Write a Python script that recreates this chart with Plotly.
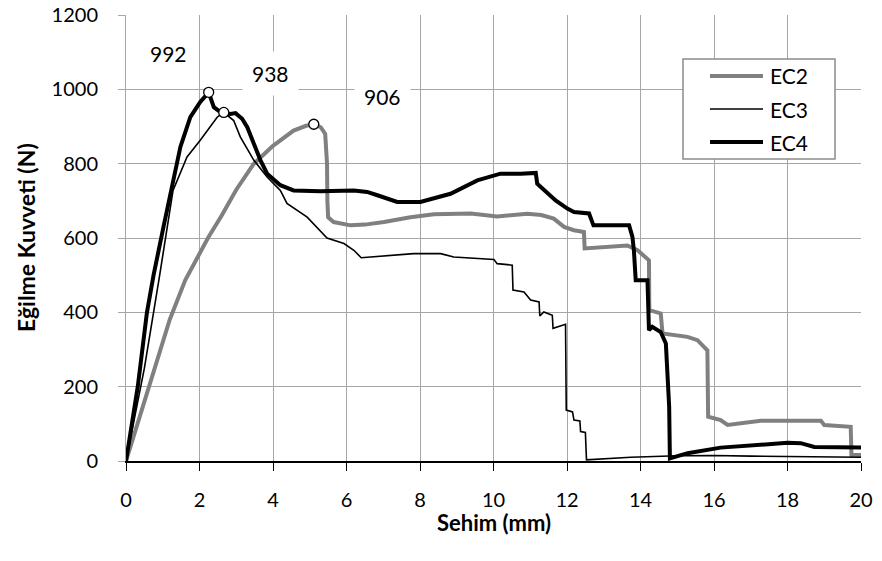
import plotly.graph_objects as go

# ---- data ----
ec2_x = [0, 0.3, 0.66, 1.0, 1.19, 1.61, 2.0, 2.23, 2.6, 3.0, 3.48, 4.0, 4.56, 4.9, 5.11, 5.3, 5.42, 5.47, 5.48, 5.5,
         5.65, 6.11, 6.5, 7.02, 7.74, 8.38, 9.38, 10.1, 10.92, 11.3, 11.64, 11.92, 12.19, 12.46, 12.48, 13.0, 13.64,
         13.92, 14.23, 14.24, 14.55, 14.6, 15.28, 15.55, 15.82, 15.84, 16.18, 16.37, 17.27, 18.91, 19.0, 19.72, 19.74, 20]
ec2_y = [0, 95, 205, 320, 380, 486, 560, 600, 660, 730, 800, 848, 889, 902, 906, 898, 880, 800, 700, 656,
         643, 634, 636, 643, 656, 664, 666, 658, 665, 662, 652, 630, 621, 616, 572, 576, 580,
         567, 540, 406, 397, 343, 334, 325, 298, 119, 110, 97, 108, 108, 97, 92, 16, 16]

ec3_x = [0, 0.5, 0.9, 1.28, 1.66, 2.02, 2.48, 2.66, 2.93, 3.11, 3.48, 3.84, 4.2, 4.38, 4.93, 5.47, 5.93, 6.2, 6.4,
         6.93, 7.83, 8.56, 8.92, 10.01, 10.1, 10.51, 10.53, 10.83, 11.01, 11.24, 11.26, 11.37, 11.47, 11.6, 11.62,
         11.96, 11.98, 12.15, 12.19, 12.35, 12.37, 12.5, 12.53, 13.73, 15, 16, 17, 18, 19, 20]
ec3_y = [0, 250, 490, 728, 818, 863, 925, 938, 916, 872, 809, 764, 728, 693, 656, 600, 585, 567, 547,
         551, 558, 558, 549, 542, 531, 527, 460, 455, 433, 428, 390, 401, 398, 392, 357,
         368, 137, 132, 110, 108, 79, 77, 3, 10, 14, 15, 13, 12, 11, 10]

ec4_x = [0, 0.32, 0.57, 0.75, 1.02, 1.3, 1.48, 1.75, 2.02, 2.25, 2.39, 2.57, 2.84, 2.98, 3.16, 3.3, 3.48, 3.66,
         3.84, 4.2, 4.56, 5.29, 6.2, 6.56, 6.84, 7.38, 8.01, 8.47, 8.83, 9.56, 10.19, 10.74, 11.15, 11.19, 11.51,
         11.69, 12.01, 12.19, 12.6, 12.72, 13.69, 13.78, 13.82, 13.87, 14.19, 14.23, 14.32, 14.55, 14.69, 14.78,
         14.8, 15.28, 16.18, 17.09, 18.0, 18.36, 18.73, 20]
ec4_y = [0, 200, 400, 500, 630, 755, 845, 925, 966, 992, 952, 939, 934, 936, 921, 898, 854, 809,
         773, 742, 728, 726, 728, 724, 715, 697, 697, 710, 719, 755, 773, 773, 775, 746, 719,
         701, 679, 670, 666, 634, 634, 603, 567, 486, 486, 352, 361, 347, 316, 146,
         7, 21, 36, 42, 49, 48, 38, 36]

series_names = ["EC2", "EC3", "EC4"]

peak_x = [2.25, 2.66, 5.11]
peak_y = [992, 938, 906]
peak_labels = ["992", "938", "906"]
label_x = [1.15, 3.93, 6.97]
label_y = [1097, 1042, 981]

x_ticks = [0, 2, 4, 6, 8, 10, 12, 14, 16, 18, 20]
y_ticks = [0, 200, 400, 600, 800, 1000, 1200]

FONT = "Lato, 'Open Sans', sans-serif"
GRID = "#a6a6a6"
W, H = 882, 561
ML, MR, MT, MB = 126, 21, 15, 100
PW, PH = W - ML - MR, H - MT - MB


def px2paper(px, py):
    return (px - ML) / PW, (H - MB - py) / PH


styles = [dict(color="#808080", width=4), dict(color="black", width=1.6), dict(color="black", width=4)]
series = [(ec2_x, ec2_y), (ec3_x, ec3_y), (ec4_x, ec4_y)]

fig = go.Figure()
for (sx, sy), nm, st in zip(series, series_names, styles):
    fig.add_trace(go.Scatter(x=sx, y=sy, mode="lines", name=nm, line=st, showlegend=False))
fig.add_trace(go.Scatter(x=peak_x, y=peak_y, mode="markers", showlegend=False,
                         marker=dict(size=10, color="white", line=dict(color="black", width=1.3))))

for lx, ly, lt in zip(label_x, label_y, peak_labels):
    fig.add_annotation(x=lx, y=ly, text=lt, showarrow=False, bgcolor="white",
                       borderpad=9, font=dict(family=FONT, size=21, color="black"))

# axis titles
fig.add_annotation(x=0.5, y=0, xref="paper", yref="paper", yanchor="middle", yshift=-(522 - (H - MB)),
                   text="<b>Sehim (mm)</b>", showarrow=False,
                   font=dict(family=FONT, size=22, color="black"))
fig.add_annotation(x=0, y=0.5, xref="paper", yref="paper", xanchor="center", xshift=-(ML - 26),
                   text="<b>Eğilme Kuvveti (N)</b>", textangle=-90, showarrow=False,
                   font=dict(family=FONT, size=23, color="black"))

# legend box (drawn in paper space)
bx0, by0 = px2paper(683, 59)
bx1, by1 = px2paper(835, 159)
fig.add_shape(type="rect", xref="paper", yref="paper", x0=bx0, y0=by0, x1=bx1, y1=by1,
              line=dict(color="#8c8c8c", width=1.5), fillcolor="white", layer="above")
for i, (nm, st) in enumerate(zip(series_names, styles)):
    rowy = [76, 109, 142][i]
    lx0, ly = px2paper(710, rowy)
    lx1, _ = px2paper(763, rowy)
    fig.add_shape(type="line", xref="paper", yref="paper", x0=lx0, x1=lx1, y0=ly, y1=ly,
                  line=st, layer="above")
    tx, _ = px2paper(768, rowy)
    fig.add_annotation(x=tx, y=ly, xref="paper", yref="paper", xanchor="left", yanchor="middle",
                       text=nm, showarrow=False, font=dict(family=FONT, size=21, color="black"))

fig.update_layout(
    width=W, height=H,
    margin=dict(l=ML, r=MR, t=MT, b=MB, autoexpand=False),
    paper_bgcolor="white", plot_bgcolor="white",
    font=dict(family=FONT, size=20, color="black"),
    showlegend=False,
    xaxis=dict(range=[0, 20], tickvals=x_ticks, showgrid=True, gridcolor=GRID, gridwidth=1,
               showline=True, linecolor="black", linewidth=1.5, ticks="outside", ticklen=8,
               tickcolor="black", zeroline=False, ticklabelstandoff=12, automargin=False),
    yaxis=dict(range=[0, 1200], tickvals=y_ticks, showgrid=True, gridcolor=GRID, gridwidth=1,
               showline=True, linecolor=GRID, linewidth=1, ticks="outside", ticklen=7,
               tickcolor=GRID, zeroline=False, ticklabelstandoff=16, automargin=False),
)

fig.write_html("out.html", config={"displayModeBar": False},
               post_script="document.body.style.margin='0';document.body.style.overflow='hidden';")
